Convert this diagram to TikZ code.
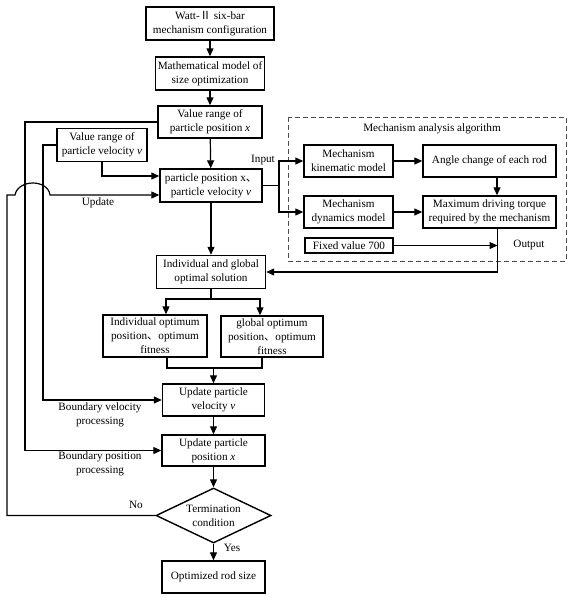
\documentclass[tikz,border=0pt]{standalone}
\usepackage{fontspec}
\setmainfont{Liberation Serif}
\newfontfamily\cjk{Noto Sans CJK SC}
\usetikzlibrary{arrows.meta,shapes.geometric}

\begin{document}
\begin{tikzpicture}[x=1pt,y=-1pt,font=\fontsize{11.2}{14}\selectfont,
    line width=1.2pt,arr/.style={-{Triangle[length=8pt,width=7pt]}}]
  \useasboundingbox (0,0) rectangle (571,600);

  \draw[dash pattern=on 5pt off 3pt,line width=1pt,black!70] (288,117) rectangle (566,261);

  \begin{scope}[every node/.style={draw,line width=1.4pt,align=center,inner sep=1pt}]
    \node[minimum width=128pt,minimum height=33pt] (1)  at (210,23.5)  {Watt-{\cjk Ⅱ} six-bar\\mechanism configuration};
    \node[minimum width=109pt,minimum height=33pt] (2)  at (210,73.5)  {Mathematical model of\\size optimization};
    \node[minimum width=104pt,minimum height=32pt] (3)  at (210,122)   {Value range of\\particle position \textit{x}};
    \node[minimum width=90pt,minimum height=33pt]  (4)  at (102,145)   {Value range of\\particle velocity \textit{v}};
    \node[minimum width=102pt,minimum height=33pt] (5)  at (211,185.5) {particle position x{\cjk 、}\\particle velocity \textit{v}};
    \node[minimum width=109pt,minimum height=33pt] (6)  at (211,272)   {Individual and global\\optimal solution};
    \node[minimum width=104pt,minimum height=42pt] (7)  at (155,336)   {Individual optimum\\position{\cjk 、}optimum\\fitness};
    \node[minimum width=102pt,minimum height=41pt] (8)  at (272,336.5) {global optimum\\position{\cjk 、}optimum\\fitness};
    \node[minimum width=102pt,minimum height=32pt] (9)  at (213.5,400) {Update particle\\velocity \textit{v}};
    \node[minimum width=103pt,minimum height=31pt] (10) at (213.5,450.5) {Update particle\\position \textit{x}};
    \node[diamond,aspect=2.1,inner sep=0pt,minimum width=115pt,minimum height=55pt] (11) at (213.5,515.5) {Termination\\condition};
    \node[minimum width=103pt,minimum height=32pt] (12) at (213.5,577) {Optimized rod size};
    \node[minimum width=89pt,minimum height=32pt]  (13) at (348.5,161) {Mechanism\\kinematic model};
    \node[minimum width=133pt,minimum height=32pt] (14) at (489.5,161) {Angle change of each rod};
    \node[minimum width=89pt,minimum height=32pt]  (15) at (348.5,212) {Mechanism\\dynamics model};
    \node[minimum width=133pt,minimum height=32pt] (16) at (489.5,212) {Maximum driving torque\\required by the mechanism};
    \node[minimum width=88pt,minimum height=15pt]  (17) at (349,245.5) {Fixed value 700};
  \end{scope}

  \begin{scope}[every node/.style={align=center,inner sep=0pt}]
    \node at (432,129) {Mechanism analysis algorithm};
    \node at (263,160) {Input};
    \node at (529,245) {Output};
    \node at (98,203)  {Update};
    \node at (100,415) {Boundary velocity\\processing};
    \node at (100,464) {Boundary position\\processing};
    \node at (136,505) {No};
    \node at (232,548) {Yes};
  \end{scope}

  \coordinate (in)  at (279,185.5);
  \coordinate (s)   at (211,299);
  \coordinate (m)   at (213.5,368);
  \coordinate (out) at (497.5,245.5);

  \begin{scope}[every edge/.style={draw,arr}]
    \path (1) edge (2);
    \path (2) edge (3);
    \path (3) edge (5);
    \path (5) edge (6);
    \path (m) edge (9);
    \path (9) edge (10);
    \path (10) edge (11);
    \path (11) edge (12);
    \path (13) edge (14);
    \path (15) edge (16);
    \path ([xshift=7.5pt]14.south) edge ([xshift=7.5pt]16.north);
    \path (17) edge (out);
  \end{scope}

  \draw (5.east) -- (in);
  \draw[arr] (in) |- (13);
  \draw[arr] (in) |- (15);
  \draw[arr] ([xshift=8pt]16.south) |- (6.east);
  \draw (6.south) -- (s);
  \draw[arr] (s) -| ([xshift=11pt]7.north);
  \draw[arr] (s) -| ([xshift=-12pt]8.north);
  \draw ([xshift=12pt]7.south) |- (m) -| ([xshift=-10pt]8.south);
  \draw[arr] (4.south) |- ([yshift=9.5pt]5.west);
  \draw[arr] (3.west) -- (25,122) |- (10.west);
  \draw[arr] (4.west) -- (43,145) |- (9.west);
  \draw[arr] (11.west) -- (7,515.5) -- (7,195) -- (15,195)
    .. controls (18,179) and (48,179) .. (50,195) -- ([yshift=-9.5pt]5.west);

\end{tikzpicture}
\end{document}
